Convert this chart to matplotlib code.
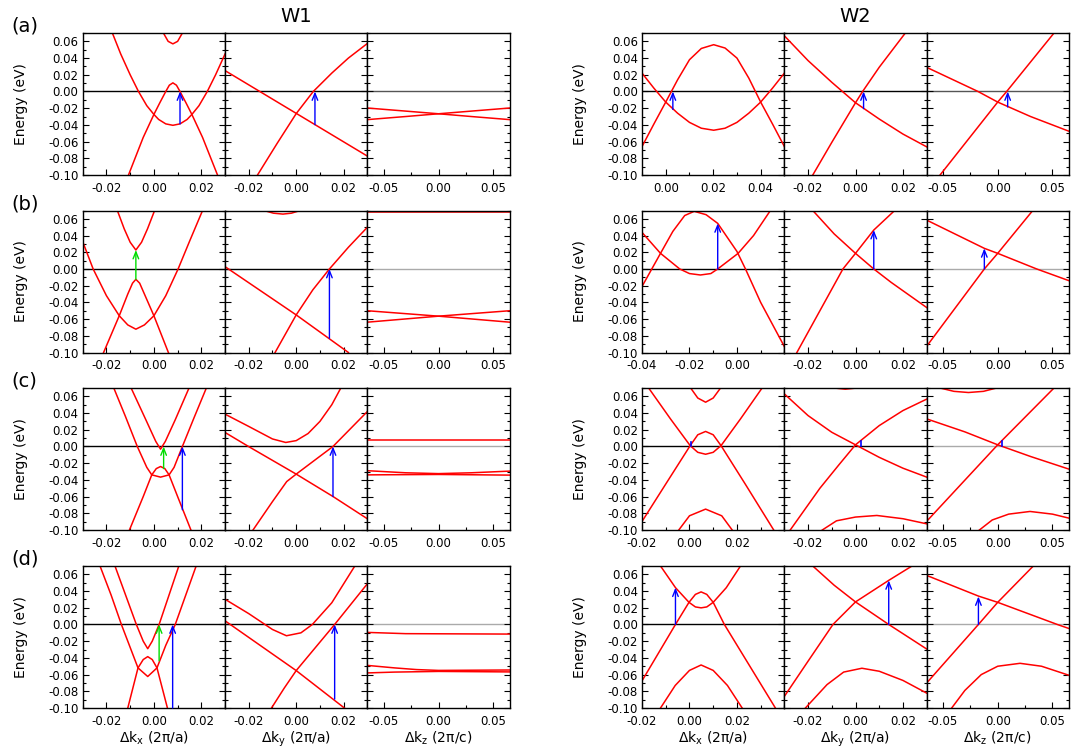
import numpy as np
import matplotlib.pyplot as plt
from matplotlib.ticker import MultipleLocator

plt.rcParams['font.family'] = 'DejaVu Sans'
plt.rcParams['axes.unicode_minus'] = False

# ---- band data: each panel is a list of bands, each band a list of (dk, E) ----
# row (a)
a_w1_kx = [
    [(0.004, 0.070), (0.006, 0.060), (0.008, 0.057), (0.010, 0.060), (0.012, 0.070)],
    [(-0.0175, 0.070), (-0.014, 0.045), (-0.010, 0.020), (-0.0065, 0.0), (-0.003, -0.017),
     (0.0, -0.0275), (0.002, -0.0335), (0.005, -0.0388), (0.008, -0.0405), (0.011, -0.0388),
     (0.014, -0.0335), (0.016, -0.0275), (0.019, -0.017), (0.0225, 0.0), (0.026, 0.020), (0.030, 0.045)],
    [(-0.0107, -0.10), (-0.0045, -0.055), (0.0, -0.0275), (0.0025, -0.0135), (0.005, 0.0),
     (0.0065, 0.0075), (0.008, 0.0103), (0.0095, 0.0075), (0.011, 0.0), (0.0135, -0.0135),
     (0.016, -0.0275), (0.0205, -0.055), (0.0268, -0.10)],
]
a_w1_ky = [
    [(-0.03, 0.025), (0.03, -0.0774)],
    [(-0.0163, -0.10), (-0.008, -0.062), (0.0, -0.0265), (0.0072, 0.0), (0.015, 0.022),
     (0.022, 0.040), (0.03, 0.0575)],
]
a_w1_kz = [
    [(-0.065, -0.0198), (-0.03, -0.0235), (0.0, -0.0267), (0.03, -0.030), (0.065, -0.0337)],
    [(-0.065, -0.0337), (-0.03, -0.030), (0.0, -0.0267), (0.03, -0.0235), (0.065, -0.0198)],
]
a_w2_kx = [
    [(-0.01, -0.066), (-0.005, -0.039), (0.0, -0.0127), (0.005, 0.014), (0.010, 0.038),
     (0.015, 0.0515), (0.0202, 0.056), (0.025, 0.052), (0.030, 0.040), (0.035, 0.016),
     (0.040, -0.0127), (0.045, -0.039), (0.05, -0.066)],
    [(-0.01, 0.022), (-0.005, 0.004), (0.0, -0.0127), (0.005, -0.026), (0.010, -0.037),
     (0.015, -0.044), (0.0202, -0.0464), (0.025, -0.044), (0.030, -0.037), (0.035, -0.026),
     (0.040, -0.0127), (0.045, 0.004), (0.05, 0.022)],
]
a_w2_ky = [
    [(-0.03, 0.0667), (-0.02, 0.037), (-0.01, 0.011), (0.0, -0.0135), (0.01, -0.033),
     (0.02, -0.051), (0.03, -0.0663)],
    [(-0.018, -0.10), (-0.01, -0.061), (0.0, -0.0135), (0.003, 0.0), (0.01, 0.029),
     (0.021, 0.070)],
]
a_w2_kz = [
    [(-0.065, 0.029), (-0.018, 0.0), (0.0, -0.0127), (0.03, -0.030), (0.065, -0.0476)],
    [(-0.0526, -0.10), (0.0, -0.0127), (0.0082, 0.0), (0.0508, 0.069)],
]

# row (b)
b_w1_kx = [
    [(-0.0154, 0.07), (-0.0125, 0.048), (-0.0100, 0.032), (-0.0076, 0.0227), (-0.0052, 0.032),
     (-0.0027, 0.048), (0.0003, 0.07)],
    [(-0.0212, -0.10), (-0.0146, -0.056), (-0.011, -0.030), (-0.009, -0.017), (-0.0076, -0.0124),
     (-0.006, -0.017), (-0.004, -0.030), (0.0, -0.056), (0.0061, -0.10)],
    [(-0.03, 0.0327), (-0.0256, 0.0), (-0.020, -0.032), (-0.0146, -0.056), (-0.011, -0.067),
     (-0.0076, -0.0721), (-0.004, -0.067), (0.0, -0.056), (0.005, -0.032), (0.0102, 0.0),
     (0.015, 0.033), (0.0205, 0.07)],
]
b_w1_ky = [
    [(-0.0136, 0.07), (-0.0096, 0.0668), (-0.0056, 0.0657), (-0.002, 0.0668), (0.0017, 0.07)],
    [(-0.03, 0.0028), (0.0, -0.055), (0.022, -0.10)],
    [(-0.0089, -0.10), (0.0, -0.055), (0.007, -0.025), (0.014, 0.0), (0.022, 0.026), (0.03, 0.050)],
]
b_w1_kz = [
    [(-0.065, 0.068), (0.065, 0.068)],
    [(-0.065, -0.050), (0.0, -0.0565), (0.065, -0.0637)],
    [(-0.065, -0.0637), (0.0, -0.0565), (0.065, -0.050)],
]
b_w2_kx = [
    [(-0.04, -0.021), (-0.0322, 0.0187), (-0.027, 0.045), (-0.022, 0.064), (-0.018, 0.069),
     (-0.013, 0.065), (-0.0081, 0.0546), (0.0, 0.021), (0.0036, 0.0), (0.01, -0.040), (0.02, -0.093)],
    [(-0.04, 0.0438), (-0.0322, 0.0187), (-0.0241, 0.0), (-0.020, -0.0055), (-0.0154, -0.0072),
     (-0.011, -0.0055), (-0.0081, 0.0), (0.0005, 0.0187), (0.007, 0.040), (0.0141, 0.07)],
]
b_w2_ky = [
    [(-0.018, 0.07), (-0.009, 0.042), (0.0, 0.0187), (0.0077, 0.0), (0.015, -0.016), (0.03, -0.0462)],
    [(-0.0247, -0.10), (-0.015, -0.050), (-0.0053, 0.0), (0.0, 0.0187), (0.0077, 0.0466), (0.0165, 0.07)],
]
b_w2_kz = [
    [(-0.065, 0.0586), (-0.0122, 0.0247), (0.0, 0.0187), (0.0356, 0.0), (0.065, -0.014)],
    [(-0.065, -0.0928), (-0.0122, 0.0), (0.0, 0.0187), (0.032, 0.07)],
]

# row (c)
c_w1_kx = [
    [(-0.0169, 0.07), (-0.012, 0.036), (-0.007, 0.0), (-0.003, -0.025), (-0.0009, -0.034),
     (0.0028, -0.0367), (0.0064, -0.034), (0.0085, -0.025), (0.012, 0.0), (0.017, 0.035), (0.0221, 0.07)],
    [(-0.0096, 0.07), (-0.0034, 0.032), (0.0008, 0.006), (0.0028, -0.0032), (0.0048, 0.006),
     (0.009, 0.032), (0.0148, 0.07)],
    [(-0.0103, -0.10), (-0.0045, -0.060), (-0.0009, -0.034), (0.001, -0.0265), (0.0028, -0.024),
     (0.0046, -0.0265), (0.0064, -0.034), (0.010, -0.060), (0.0156, -0.10)],
]
c_w1_ky = [
    [(-0.03, 0.0387), (-0.02, 0.024), (-0.01, 0.009), (-0.0044, 0.0048), (0.0, 0.007),
     (0.005, 0.0155), (0.010, 0.030), (0.015, 0.050), (0.0188, 0.07)],
    [(-0.03, 0.0168), (-0.0201, 0.0), (0.0, -0.0331), (0.0155, -0.0599), (0.03, -0.0866)],
    [(-0.0182, -0.10), (-0.01, -0.066), (-0.004, -0.042), (0.0, -0.0331), (0.008, -0.016),
     (0.0155, 0.0), (0.03, 0.0419)],
]
c_w1_kz = [
    [(-0.065, 0.0072), (0.065, 0.0072)],
    [(-0.065, -0.029), (-0.03, -0.0315), (0.0, -0.0325), (0.03, -0.0315), (0.065, -0.0295)],
    [(-0.065, -0.034), (0.0, -0.0335), (0.065, -0.0343)],
]
c_w2_kx = [
    [(0.0005, 0.07), (0.0035, 0.058), (0.0068, 0.053), (0.010, 0.058), (0.0131, 0.07)],
    [(-0.02, -0.0898), (-0.01, -0.045), (0.0003, 0.001), (0.0035, 0.014), (0.0068, 0.018),
     (0.010, 0.014), (0.0133, 0.001), (0.0235, -0.045), (0.0355, -0.10)],
    [(-0.0172, 0.07), (-0.008, 0.033), (0.0003, 0.001), (0.0035, -0.007), (0.0068, -0.0093),
     (0.010, -0.007), (0.0133, 0.001), (0.0215, 0.033), (0.0306, 0.07)],
    [(-0.0045, -0.10), (0.0, -0.083), (0.0068, -0.075), (0.0136, -0.083), (0.018, -0.10)],
]
c_w2_ky = [
    [(-0.009, 0.07), (-0.0043, 0.0686), (0.0006, 0.07)],
    [(-0.03, 0.063), (-0.02, 0.037), (-0.01, 0.017), (0.0, 0.002), (0.01, -0.013), (0.02, -0.026),
     (0.03, -0.0367)],
    [(-0.0275, -0.10), (-0.015, -0.050), (-0.007, -0.022), (0.0, 0.002), (0.01, 0.025), (0.02, 0.043),
     (0.03, 0.0567)],
    [(-0.014, -0.10), (-0.008, -0.089), (0.0, -0.0845), (0.009, -0.0826), (0.02, -0.0865), (0.03, -0.0926)],
]
c_w2_kz = [
    [(-0.0526, 0.07), (-0.040, 0.066), (-0.0267, 0.0646), (-0.013, 0.066), (-0.001, 0.07)],
    [(-0.065, 0.0331), (-0.03, 0.0175), (0.0, 0.002), (0.03, -0.012), (0.065, -0.0271)],
    [(-0.065, -0.0898), (0.0, 0.002), (0.0514, 0.07)],
    [(-0.0167, -0.10), (-0.005, -0.088), (0.01, -0.081), (0.0295, -0.0778), (0.05, -0.081), (0.065, -0.0858)],
]

# row (d)
d_w1_kx = [
    [(-0.0164, 0.07), (-0.0074, 0.0), (-0.0045, -0.020), (-0.0026, -0.029), (-0.0007, -0.020),
     (0.0022, 0.0), (0.0105, 0.07)],
    [(-0.0227, 0.07), (-0.018, 0.035), (-0.0137, 0.0), (-0.0067, -0.052), (-0.0026, -0.0623),
     (0.0013, -0.052), (0.005, -0.025), (0.009, 0.0), (0.0178, 0.07)],
    [(-0.011, -0.10), (-0.0067, -0.052), (-0.0045, -0.042), (-0.0026, -0.0385), (-0.0007, -0.042),
     (0.0013, -0.052), (0.0057, -0.10)],
]
d_w1_ky = [
    [(-0.03, 0.0302), (-0.02, 0.013), (-0.01, -0.006), (-0.0041, -0.0135), (0.002, -0.010),
     (0.0068, 0.0), (0.015, 0.026), (0.0247, 0.07)],
    [(-0.03, 0.0044), (0.0, -0.0552), (0.0203, -0.10)],
    [(-0.0104, -0.10), (-0.005, -0.076), (0.0, -0.0552), (0.0162, 0.0), (0.03, 0.0488)],
]
d_w1_kz = [
    [(-0.065, -0.0095), (-0.03, -0.011), (0.065, -0.0115)],
    [(-0.065, -0.049), (-0.04, -0.052), (-0.02, -0.054), (0.0, -0.055), (0.065, -0.0545)],
    [(-0.065, -0.058), (-0.04, -0.057), (0.0, -0.0562), (0.065, -0.0568)],
]
d_w2_kx = [
    [(-0.0122, 0.07), (-0.0059, 0.0441), (-0.0002, 0.0265), (0.0025, 0.021), (0.0049, 0.0199),
     (0.0073, 0.021), (0.010, 0.0265), (0.0155, 0.044), (0.0215, 0.07)],
    [(-0.02, -0.0675), (-0.0059, 0.0), (-0.0002, 0.0265), (0.0025, 0.036), (0.0049, 0.039),
     (0.0073, 0.036), (0.010, 0.0265), (0.0147, 0.0), (0.0362, -0.10)],
    [(-0.0122, -0.10), (-0.006, -0.073), (0.0, -0.055), (0.0049, -0.0485), (0.010, -0.055),
     (0.016, -0.073), (0.0222, -0.10)],
]
d_w2_ky = [
    [(-0.018, 0.07), (-0.009, 0.047), (0.0, 0.027), (0.014, 0.0), (0.03, -0.0294)],
    [(-0.03, -0.0862), (-0.02, -0.044), (-0.0095, 0.0), (0.0, 0.027), (0.014, 0.0528), (0.0238, 0.07)],
    [(-0.0211, -0.10), (-0.012, -0.072), (-0.005, -0.057), (0.0027, -0.0524), (0.01, -0.056),
     (0.02, -0.067), (0.03, -0.0822)],
]
d_w2_kz = [
    [(-0.065, 0.0588), (-0.0176, 0.034), (0.0, 0.0265), (0.0544, 0.0), (0.065, -0.0048)],
    [(-0.065, -0.0703), (-0.0176, 0.0), (0.0, 0.0265), (0.0325, 0.07)],
    [(-0.042, -0.10), (-0.03, -0.079), (-0.015, -0.060), (0.0, -0.050), (0.0204, -0.0465),
     (0.04, -0.050), (0.065, -0.0608)],
]

# transitions: (dk, E_from, E_to)
blue_arrows = {
    ('a', 0): [(0.011, -0.0388, 0.0)], ('a', 1): [(0.0079, -0.0397, 0.0)],
    ('a', 3): [(0.003, -0.0215, 0.0)], ('a', 4): [(0.0034, -0.0205, 0.0)],
    ('a', 5): [(0.0091, -0.0185, 0.0)],
    ('b', 1): [(0.014, -0.0829, 0.0)], ('b', 3): [(-0.0081, 0.0, 0.0546)],
    ('b', 4): [(0.0077, 0.0, 0.0466)], ('b', 5): [(-0.0122, 0.0, 0.0247)],
    ('c', 0): [(0.012, -0.0758, 0.0)], ('c', 1): [(0.0155, -0.0599, 0.0)],
    ('c', 3): [(0.0008, 0.0, 0.005)], ('c', 4): [(0.0023, 0.0, 0.006)],
    ('c', 5): [(0.0036, 0.0, 0.006)],
    ('d', 0): [(0.0079, -0.10, 0.0)], ('d', 1): [(0.0162, -0.0894, 0.0)],
    ('d', 3): [(-0.0059, 0.0, 0.0441)], ('d', 4): [(0.014, 0.0, 0.0528)],
    ('d', 5): [(-0.0176, 0.0, 0.0335)],
}
green_arrows = {
    ('b', 0): [(-0.0076, -0.0124, 0.0227)],
    ('c', 0): [(0.0041, -0.0265, 0.0)],
    ('d', 0): [(0.0022, -0.0435, 0.0)],
}

row_names = ['a', 'b', 'c', 'd']
panels = [
    [a_w1_kx, a_w1_ky, a_w1_kz, a_w2_kx, a_w2_ky, a_w2_kz],
    [b_w1_kx, b_w1_ky, b_w1_kz, b_w2_kx, b_w2_ky, b_w2_kz],
    [c_w1_kx, c_w1_ky, c_w1_kz, c_w2_kx, c_w2_ky, c_w2_kz],
    [d_w1_kx, d_w1_ky, d_w1_kz, d_w2_kx, d_w2_ky, d_w2_kz],
]
w2_kx_lims = [(-0.01, 0.05), (-0.04, 0.02), (-0.02, 0.04), (-0.02, 0.04)]
kz_zero_colors = ['#555555', '#aaaaaa', '#aaaaaa', '#aaaaaa']
xlabels = [r'$\Delta$k$_{\mathrm{x}}$ (2π/a)', r'$\Delta$k$_{\mathrm{y}}$ (2π/a)',
           r'$\Delta$k$_{\mathrm{z}}$ (2π/c)']

W, H = 1078, 752
fig = plt.figure(figsize=(W / 100, H / 100), dpi=100)
col_left = [82.7, 225.0, 367.3, 642.0, 784.3, 926.5]
col_w = 142.4
row_top = [33.0, 210.5, 388.0, 566.0]
row_h = 142.0

for r in range(4):
    for c in range(6):
        ax = fig.add_axes([col_left[c] / W, 1 - (row_top[r] + row_h) / H, col_w / W, row_h / H])
        kind = c % 3
        if kind == 2:
            xlim = (-0.065, 0.065)
            zc = kz_zero_colors[r]
        elif c == 3:
            xlim = w2_kx_lims[r]
            zc = 'black'
        else:
            xlim = (-0.03, 0.03)
            zc = 'black'
        ax.axhline(0, color=zc, lw=1.0, zorder=1)
        for band in panels[r][c]:
            k = [p[0] for p in band]
            e = [p[1] for p in band]
            ax.plot(k, e, color='red', lw=1.1, zorder=2)
        for col, arrs in (('blue', blue_arrows), ('#00dd00', green_arrows)):
            for k0, e0, e1 in arrs.get((row_names[r], c), []):
                if abs(e1 - e0) > 0.01:
                    ax.annotate('', xy=(k0, e1), xytext=(k0, e0),
                                arrowprops=dict(arrowstyle='->,head_length=0.5,head_width=0.2',
                                                color=col, lw=1.0, shrinkA=0, shrinkB=0),
                                zorder=3, annotation_clip=False)
                else:
                    ax.plot([k0, k0], [e0, e1], color=col, lw=1.2, zorder=3)
        ax.set_xlim(*xlim)
        ax.set_ylim(-0.10, 0.07)
        if kind == 2:
            step, mstep = 0.05, 0.025
        else:
            step, mstep = 0.02, 0.01
        cand = np.round(np.arange(-0.1, 0.1001, step), 4)
        ax.set_xticks([t for t in cand if xlim[0] - 1e-6 < t < xlim[1] - 1e-6])
        ax.xaxis.set_minor_locator(MultipleLocator(mstep))
        ax.set_yticks(np.round(np.arange(-0.10, 0.0601, 0.02), 2))
        ax.yaxis.set_minor_locator(MultipleLocator(0.01))
        ax.xaxis.set_major_formatter(plt.FormatStrFormatter('%.2f'))
        ax.yaxis.set_major_formatter(plt.FormatStrFormatter('%.2f'))
        ax.tick_params(which='both', direction='in', top=False, right=True, labelsize=8.5)
        ax.tick_params(which='major', length=4, width=0.8, pad=5)
        ax.tick_params(which='minor', length=2.2, width=0.8)
        ax.tick_params(axis='y', pad=3)
        for s in ax.spines.values():
            s.set_linewidth(1.0)
        if kind == 0:
            ax.set_ylabel('Energy (eV)', fontsize=10)
            ax.yaxis.set_label_coords(-0.385, 0.5)
        else:
            ax.tick_params(axis='y', labelleft=False)
        if r == 3:
            ax.set_xlabel(xlabels[kind], fontsize=10)
            ax.xaxis.set_label_coords(0.5, -0.155)

fig.text((col_left[1] + col_w / 2) / W, 1 - 17 / H, 'W1', fontsize=14, ha='center', va='center')
fig.text((col_left[4] + col_w / 2) / W, 1 - 17 / H, 'W2', fontsize=14, ha='center', va='center')
for r, name in enumerate(row_names):
    fig.text(11 / W, 1 - (row_top[r] - 7) / H, '(%s)' % name, fontsize=14, ha='left', va='center')

fig.savefig('out.png', dpi=100)
